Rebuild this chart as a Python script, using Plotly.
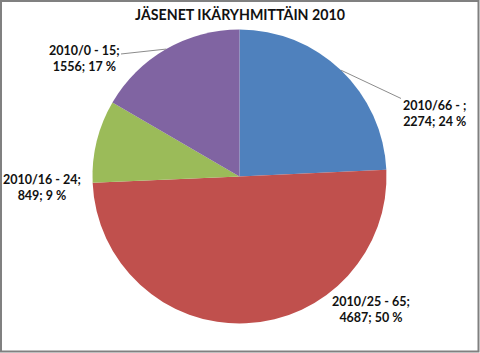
import math
import plotly.graph_objects as go

# ---- data ----
categories = ["2010/66 - ", "2010/25 - 65", "2010/16 - 24", "2010/0 - 15"]
values = [2274, 4687, 849, 1556]
percent_labels = ["24 %", "50 %", "9 %", "17 %"]
colors = ["#4F81BD", "#C0504D", "#9BBB59", "#8064A2"]
title_text = "JÄSENET IKÄRYHMITTÄIN 2010"

W, H = 480, 353
CX, CY, R = 239.5, 176.5, 147.0  # pie centre / radius in pixels

fig = go.Figure()
fig.add_trace(go.Pie(
    labels=categories,
    values=values,
    sort=False,
    direction="clockwise",
    rotation=0,
    marker=dict(colors=colors, line=dict(width=0)),
    textinfo="none",
    hoverinfo="label+value+percent",
    showlegend=False,
    domain=dict(x=[(CX - R) / W, (CX + R) / W],
                y=[(H - CY - R) / H, (H - CY + R) / H]),
))

# label text positions (pixel centres) and whether a leader line is drawn
label_pos = [(434, 114, True), (371, 309, False), (42, 187, False), (84, 58, True)]

total = sum(values)
cum = 0.0
font = dict(family="Lato, Open Sans, sans-serif", size=12.5, color="#111111")
for i, v in enumerate(values):
    mid = (cum + v / 2) / total * 2 * math.pi
    cum += v
    ex = CX + R * math.sin(mid)
    ey = CY - R * math.cos(mid)
    tx, ty, leader = label_pos[i]
    text = f"<b>{categories[i]};<br>{v}; {percent_labels[i]}</b>"
    if leader:
        fig.add_annotation(
            x=ex / W, y=1 - ey / H, xref="paper", yref="paper",
            ax=tx - ex, ay=ty - ey, axref="pixel", ayref="pixel",
            text=text, showarrow=True, arrowhead=0, arrowwidth=1,
            arrowcolor="#8c8c8c", standoff=0, font=font, align="center",
        )
    else:
        fig.add_annotation(
            x=tx / W, y=1 - ty / H, xref="paper", yref="paper",
            text=text, showarrow=False, font=font, align="center",
            xanchor="center", yanchor="middle",
        )

# title
fig.add_annotation(
    x=0.5, y=1 - 15 / H, xref="paper", yref="paper",
    text=f"<b>{title_text}</b>", showarrow=False,
    font=dict(family="Lato, Open Sans, sans-serif", size=14.2, color="#111111"),
    xanchor="center", yanchor="middle",
)

# outer chart border
fig.add_shape(type="rect", xref="paper", yref="paper",
              x0=1 / W, y0=1.5 / H, x1=1 - 1.5 / W, y1=1 - 1 / H,
              line=dict(color="#808080", width=2))

fig.update_layout(
    width=W, height=H,
    margin=dict(l=0, r=0, t=0, b=0),
    paper_bgcolor="white", plot_bgcolor="white",
)

fig.write_html("out.html")
